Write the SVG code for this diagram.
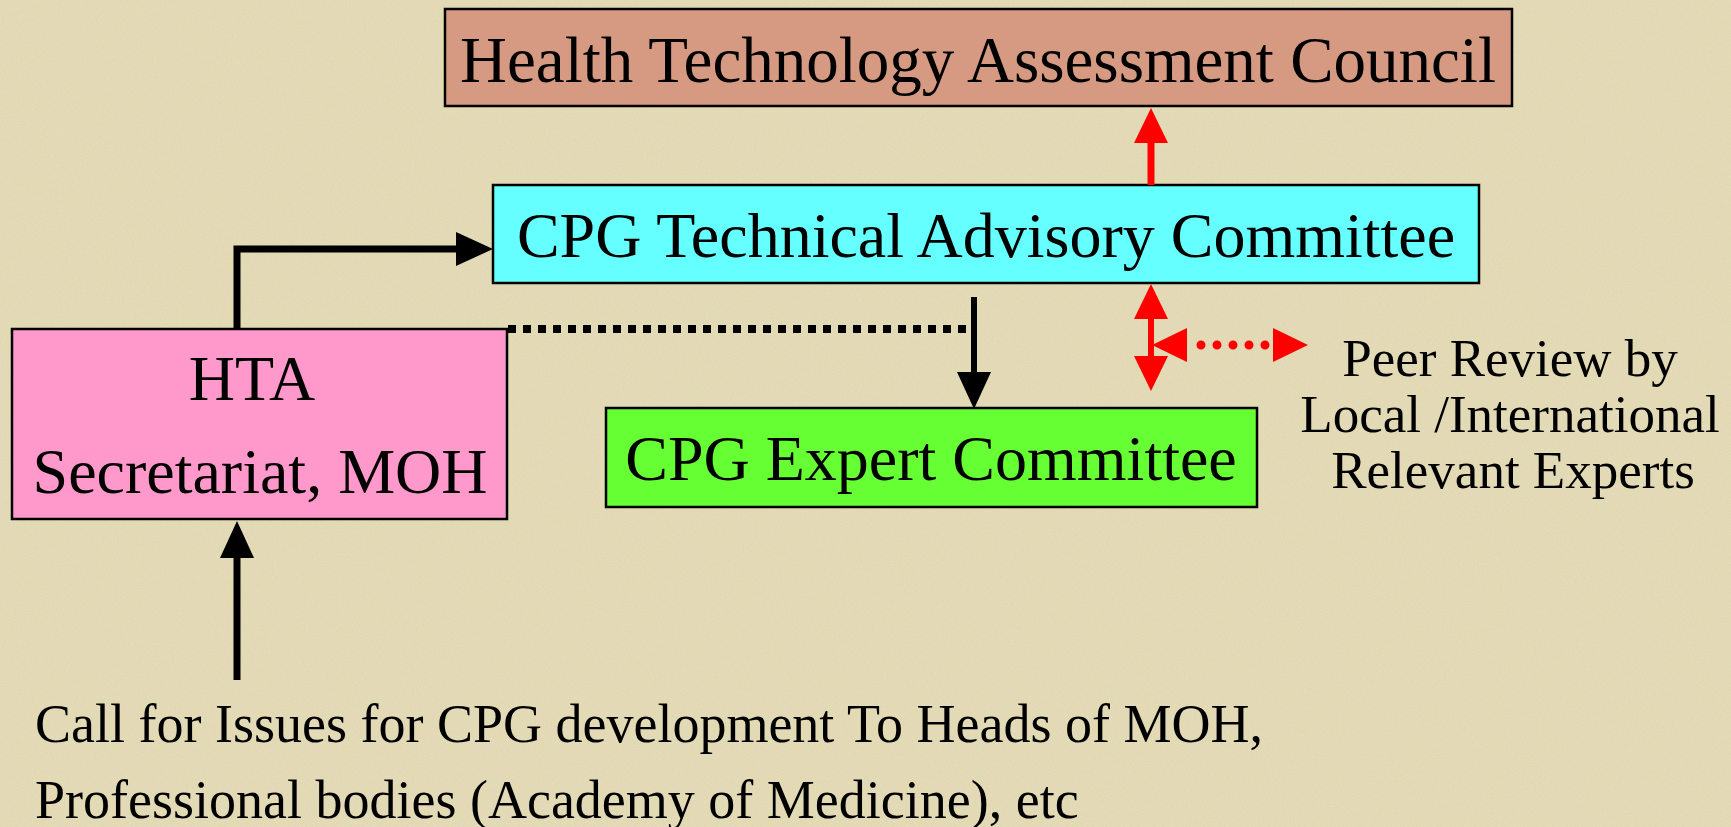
<svg xmlns="http://www.w3.org/2000/svg" width="1731" height="827" viewBox="0 0 1731 827">
<style>
.box{stroke:#000;stroke-width:2.5}
.t{font-family:"Liberation Serif","Times New Roman",serif;fill:#000}
.big{font-size:64px}
.mid{font-size:53px}
.blk{fill:none;stroke:#000}
.red{fill:none;stroke:#FF0000}
</style>
<defs>
<filter id="tex" x="0" y="0" width="100%" height="100%">
<feTurbulence type="fractalNoise" baseFrequency="0.9" numOctaves="2" seed="4"/>
<feColorMatrix type="matrix" values="0 0 0 0 0.55 0 0 0 0 0.50 0 0 0 0 0.35 0 0 0 -0.9 0.75"/>
</filter>
<marker id="ah" markerUnits="userSpaceOnUse" markerWidth="37" markerHeight="34" refX="1" refY="17" orient="auto-start-reverse">
<path d="M0,0 L37,17 L0,34 z" fill="#000"/>
</marker>
<marker id="rh" markerUnits="userSpaceOnUse" markerWidth="35" markerHeight="34" refX="1" refY="17" orient="auto-start-reverse">
<path d="M0,0 L35,17 L0,34 z" fill="#FF0000"/>
</marker>
</defs>
<rect width="1731" height="827" fill="#E6DDB8"/>
<rect width="1731" height="827" filter="url(#tex)" opacity="0.35"/>

<g id="council">
<rect class="box" x="445" y="9" width="1067" height="97" fill="#D69A82"/>
<text class="t" x="978" y="82" text-anchor="middle" font-size="65">Health Technology Assessment Council</text>
</g>
<g id="technical">
<rect class="box" x="493" y="185" width="986" height="98" fill="#66FFFF"/>
<text class="t big" x="986" y="257" text-anchor="middle">CPG Technical Advisory Committee</text>
</g>
<g id="secretariat">
<rect class="box" x="12" y="329" width="495" height="190" fill="#FF99CC"/>
<text class="t big" x="252" y="400" text-anchor="middle">HTA</text>
<text class="t big" x="260" y="493" text-anchor="middle">Secretariat, MOH</text>
</g>
<g id="expert">
<rect class="box" x="606" y="408" width="651" height="99" fill="#66FF33"/>
<text class="t big" x="931" y="480" text-anchor="middle">CPG Expert Committee</text>
</g>
<g id="peer">
<text class="t mid" x="1510" y="376" text-anchor="middle">Peer Review by</text>
<text class="t mid" x="1510" y="432" text-anchor="middle">Local /International</text>
<text class="t mid" x="1513" y="488" text-anchor="middle">Relevant Experts</text>
</g>
<g id="call">
<text class="t" font-size="54" x="35" y="742">Call for Issues for CPG development To Heads of MOH,</text>
<text class="t" font-size="54" x="35" y="818">Professional bodies (Academy of Medicine), etc</text>
</g>

<g id="connectors">
<path class="blk" d="M237,329 V249 H457" stroke-width="7" marker-end="url(#ah)"/>
<path class="blk" d="M237,680 V557" stroke-width="7" marker-end="url(#ah)"/>
<path class="blk" d="M508,329 H968" stroke-width="8" stroke-dasharray="8 7"/>
<path class="blk" d="M974,297 V373" stroke-width="6" marker-end="url(#ah)"/>
<path class="red" d="M1151,185 V142" stroke-width="7" marker-end="url(#rh)"/>
<path class="red" d="M1151,318 V357" stroke-width="6" marker-start="url(#rh)" marker-end="url(#rh)"/>
<path class="red" d="M1186,345 H1274" stroke-width="9" stroke-linecap="round" stroke-dasharray="0 16" stroke-dashoffset="1" marker-start="url(#rh)" marker-end="url(#rh)"/>
</g>
</svg>
